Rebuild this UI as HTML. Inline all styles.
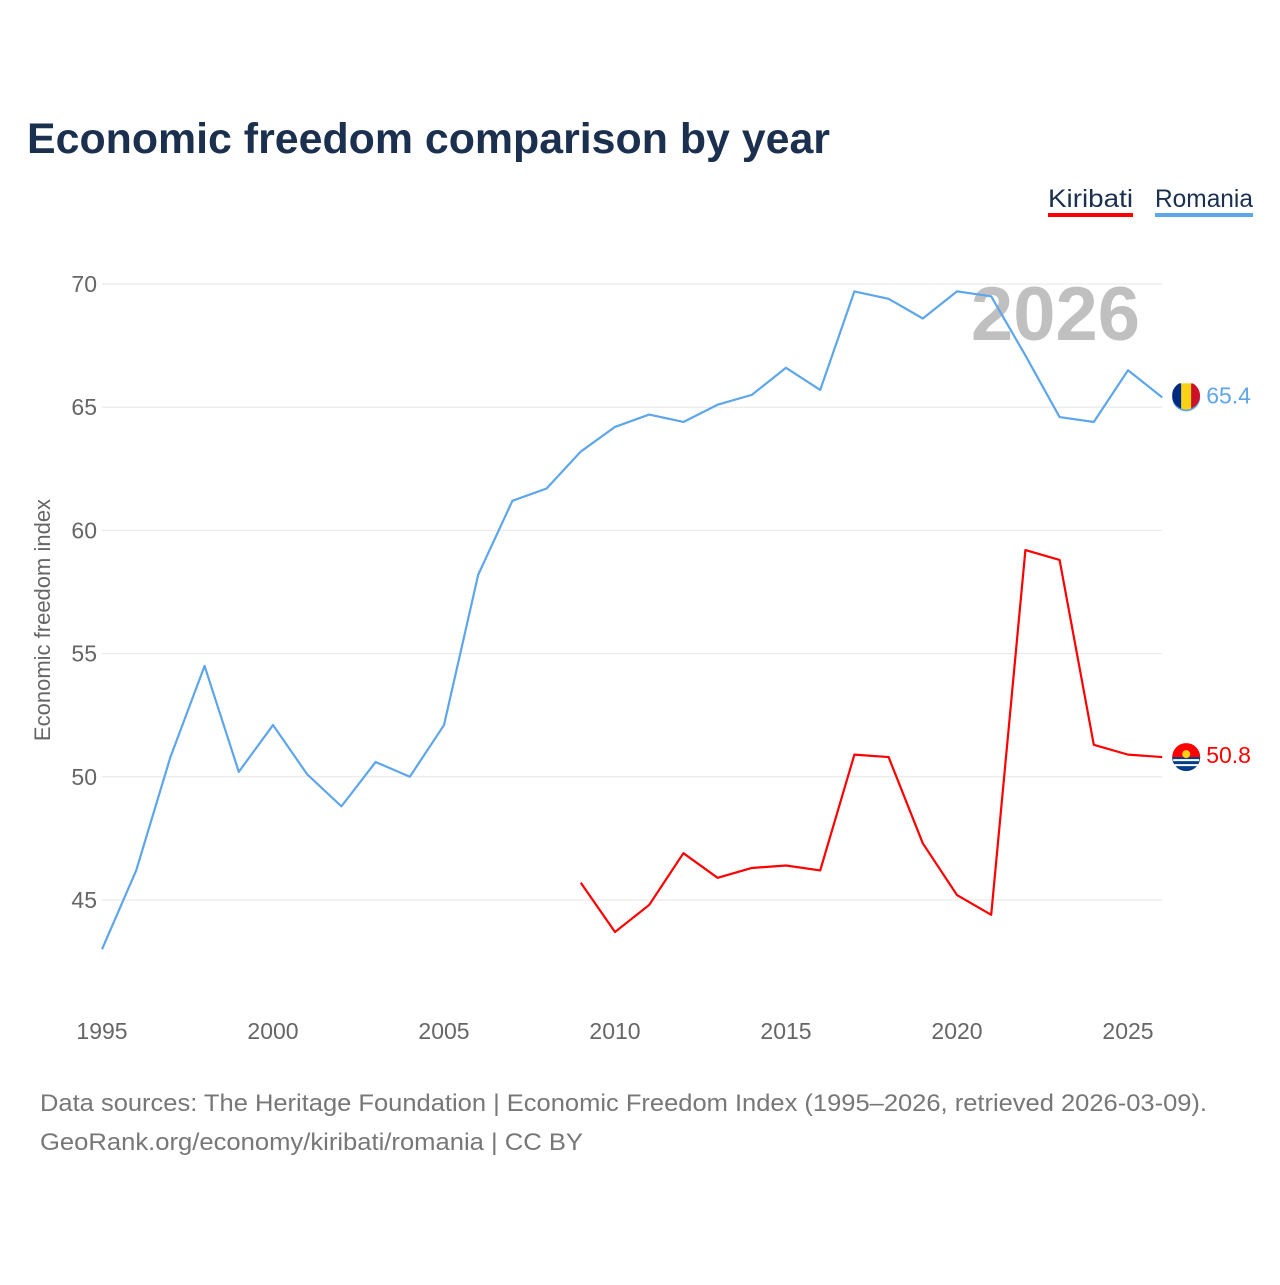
<!DOCTYPE html>
<html><head><meta charset="utf-8"><style>
body{margin:0;background:#fff;font-family:"Liberation Sans",sans-serif}
</style></head><body>
<svg id="c" width="1280" height="1280" viewBox="0 0 1280 1280" xmlns="http://www.w3.org/2000/svg" font-family="Liberation Sans, sans-serif">
<defs><clipPath id="rc"><circle cx="1186" cy="395.6" r="14"/></clipPath></defs>
<text x="27" y="153" font-size="43" font-weight="bold" fill="#1b2f4f" textLength="803" lengthAdjust="spacingAndGlyphs">Economic freedom comparison by year</text>
<g><text x="1048" y="207" font-size="25" fill="#1b2f4f" textLength="85" lengthAdjust="spacingAndGlyphs">Kiribati</text><rect x="1048" y="213" width="85" height="4" fill="#ff0000"/></g>
<g><text x="1155" y="207" font-size="25" fill="#1b2f4f" textLength="98" lengthAdjust="spacingAndGlyphs">Romania</text><rect x="1155" y="213" width="98" height="4" fill="#5ea6ea"/></g>
<text x="1140" y="340" font-size="76" font-weight="bold" fill="#c0c0c0" text-anchor="end">2026</text>
<g id="grid"></g><g id="series"></g>
<text transform="translate(50,620) rotate(-90)" font-size="22" fill="#666" text-anchor="middle">Economic freedom index</text>
<text x="40" y="1111" font-size="24" fill="#777" textLength="1167" lengthAdjust="spacingAndGlyphs">Data sources: The Heritage Foundation | Economic Freedom Index (1995–2026, retrieved 2026-03-09).</text>
<text x="40" y="1150" font-size="24" fill="#777" textLength="543" lengthAdjust="spacingAndGlyphs">GeoRank.org/economy/kiribati/romania | CC BY</text>
</svg>
<script>
const yTicks=[45,50,55,60,65,70];
const xTicks=[1995,2000,2005,2010,2015,2020,2025];
const romaniaYears=[1995,1996,1997,1998,1999,2000,2001,2002,2003,2004,2005,2006,2007,2008,2009,2010,2011,2012,2013,2014,2015,2016,2017,2018,2019,2020,2021,2022,2023,2024,2025,2026];
const romaniaValues=[43.0,46.2,50.8,54.5,50.2,52.1,50.1,48.8,50.6,50.0,52.1,58.2,61.2,61.7,63.2,64.2,64.7,64.4,65.1,65.5,66.6,65.7,69.7,69.4,68.6,69.7,69.5,67.1,64.6,64.4,66.5,65.4];
const kiribatiYears=[2009,2010,2011,2012,2013,2014,2015,2016,2017,2018,2019,2020,2021,2022,2023,2024,2025,2026];
const kiribatiValues=[45.7,43.7,44.8,46.9,45.9,46.3,46.4,46.2,50.9,50.8,47.3,45.2,44.4,59.2,58.8,51.3,50.9,50.8];
const X=y=>102+(y-1995)*34.2, Y=v=>284+(70-v)*24.64;
const ns="http://www.w3.org/2000/svg";
function mk(t,a,p){const e=document.createElementNS(ns,t);for(const k in a)e.setAttribute(k,a[k]);p.appendChild(e);return e;}
const g=document.getElementById('grid'), s=document.getElementById('series');
yTicks.forEach(v=>{
 const l=mk('line',{x1:102,x2:1162,y1:Y(v),y2:Y(v),stroke:'#e6e6e6','stroke-width':1},g);
 
 
 const t=mk('text',{x:97,y:Y(v)+8,'font-size':23,fill:'#666','text-anchor':'end'},g);t.textContent=v;
 
 
});
xTicks.forEach(v=>{
 const t=mk('text',{x:X(v),y:1039,'font-size':23,fill:'#666','text-anchor':'middle'},g);t.textContent=v;
 
 
});
function line(ys,vs,col,name){
 const p=mk('polyline',{points:ys.map((y,i)=>X(y)+','+Y(vs[i])).join(' '),fill:'none',stroke:col,'stroke-width':2.2,'stroke-linejoin':'round'},s);
 
 
 const last=vs[vs.length-1], cx=X(ys[ys.length-1])+24, cy=Y(last);
 const c=mk('circle',{cx:cx,cy:cy,r:14,fill:col},s);
 
 
 const t=mk('text',{x:cx+20,y:cy+6,'font-size':23,fill:col},s);t.textContent=last.toFixed(1);
 
 
 return [cx,cy];
}
const [rx,ry]=line(romaniaYears,romaniaValues,'#5ea6ea','romania');
const fg=mk('g',{'clip-path':'url(#rc)'},s);
mk('rect',{x:rx-14,y:ry-14,width:9,height:28,fill:'#002b7f'},fg);
mk('rect',{x:rx-5,y:ry-14,width:10,height:28,fill:'#fcd116'},fg);
mk('rect',{x:rx+5,y:ry-14,width:9,height:28,fill:'#ce1126'},fg);
const [kx,ky]=line(kiribatiYears,kiribatiValues,'#ff0000','kiribati');
mk('path',{d:`M${kx-14},${ky} A14,14 0 0 0 ${kx+14},${ky} Z`,fill:'#003f87'},s);
mk('path',{d:`M${kx-13},${ky+3} h26 M${kx-12},${ky+8} h24`,stroke:'#fff','stroke-width':2},s);
mk('circle',{cx:kx,cy:ky-3,r:4,fill:'#fcd116'},s);
</script>
</body></html>
